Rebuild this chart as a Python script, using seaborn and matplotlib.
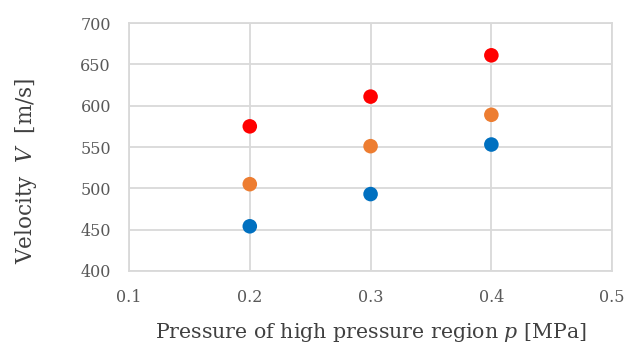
import pandas as pd
import matplotlib.pyplot as plt
import seaborn as sns

# data
pressure = [0.2, 0.3, 0.4]
v_red = [575, 611, 661]
v_orange = [505, 551, 589]
v_blue = [454, 493, 553]

df = pd.DataFrame({
    'p': pressure * 3,
    'V': v_red + v_orange + v_blue,
    'series': ['red'] * 3 + ['orange'] * 3 + ['blue'] * 3,
})

sns.set_theme(style='whitegrid')
plt.rcParams['font.family'] = ['DejaVu Serif']
plt.rcParams['mathtext.fontset'] = 'custom'
plt.rcParams['mathtext.it'] = 'DejaVu Serif:italic'
plt.rcParams['mathtext.rm'] = 'DejaVu Serif'

fig = plt.figure(figsize=(6.37, 3.5), dpi=100)
ax = fig.add_axes([0.2025, 0.226, 0.7585, 0.708])

palette = {'red': '#FF0000', 'orange': '#ED7D31', 'blue': '#0070C0'}
sns.scatterplot(data=df, x='p', y='V', hue='series', palette=palette,
                s=110, edgecolor='none', legend=False, ax=ax, zorder=3)

ax.set_xlim(0.1, 0.5)
ax.set_ylim(400, 700)
ax.set_xticks([0.1, 0.2, 0.3, 0.4, 0.5])
ax.set_yticks(range(400, 701, 50))
ax.grid(True, color='#D9D9D9', linewidth=1.3)
for sp in ax.spines.values():
    sp.set_color('#D9D9D9')
    sp.set_linewidth(1.3)
ax.tick_params(axis='both', colors='#595959', labelsize=11.5, length=0, pad=13)

ax.set_xlabel('Pressure of high pressure region $\\it{p}$ [MPa]', fontsize=14.8,
              color='#404040', labelpad=11)
ax.set_ylabel('Velocity  $\\it{V}$  [m/s]', fontsize=15.5, color='#404040')
ax.yaxis.set_label_coords(-0.186, 0.405)

fig.savefig('out.png', dpi=100)
